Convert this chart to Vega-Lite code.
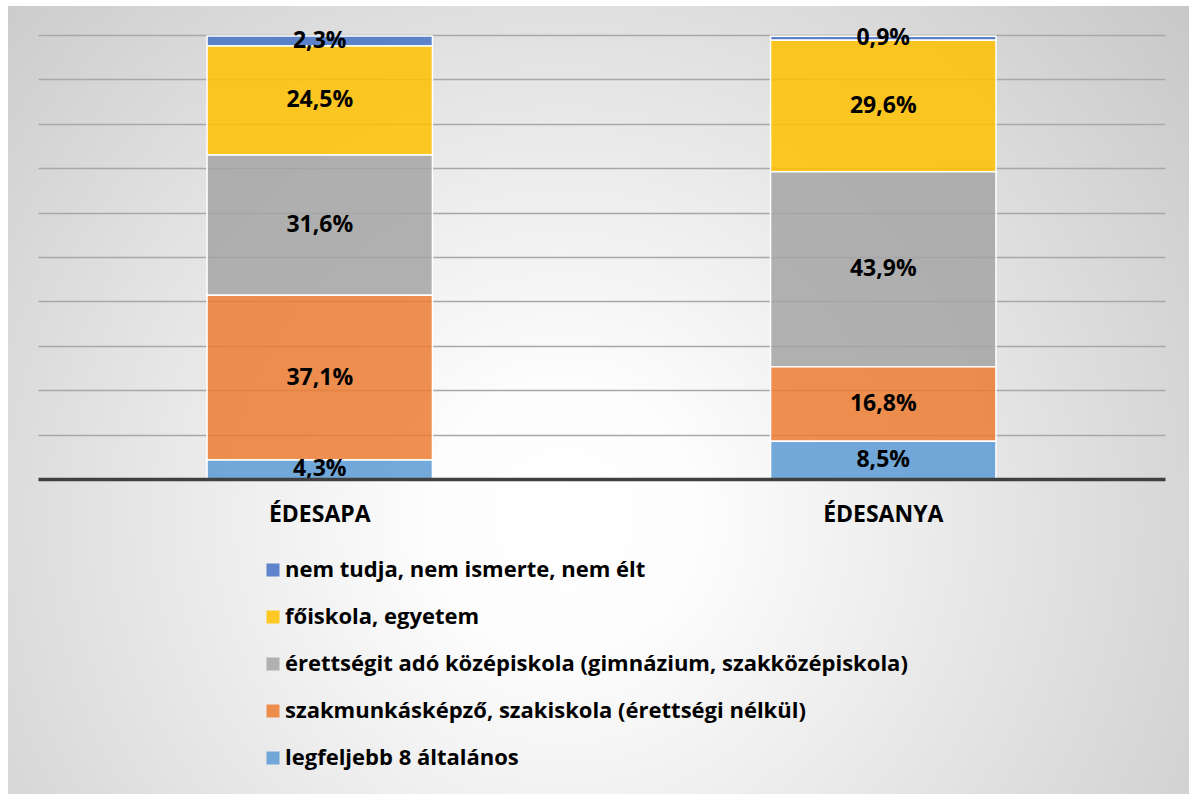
{
  "$schema": "https://vega.github.io/schema/vega-lite/v6.json",
  "width": 1181,
  "height": 788,
  "autosize": {"type": "none"},
  "padding": {"left": 8, "top": 6, "right": 0, "bottom": 0},
  "background": "#ffffff",
  "config": {
    "locale": {"number": {"decimal": ",", "thousands": "\u00a0", "grouping": [3], "currency": ["", " Ft"]}},
    "font": "Open Sans",
    "view": {
      "stroke": null,
      "fill": {
        "gradient": "radial",
        "x1": 0.47, "y1": 0.6, "r1": 0,
        "x2": 0.47, "y2": 0.6, "r2": 0.75,
        "stops": [
          {"offset": 0, "color": "#ffffff"},
          {"offset": 0.15, "color": "#fdfdfd"},
          {"offset": 1, "color": "#c2c2c2"}
        ]
      }
    }
  },
  "data": {
    "values": [
      {"szulo": "ÉDESAPA", "kat": "nem tudja, nem ismerte, nem élt", "arany": 0.023, "ord": 5},
      {"szulo": "ÉDESAPA", "kat": "főiskola, egyetem", "arany": 0.245, "ord": 4},
      {"szulo": "ÉDESAPA", "kat": "érettségit adó középiskola (gimnázium, szakközépiskola)", "arany": 0.316, "ord": 3},
      {"szulo": "ÉDESAPA", "kat": "szakmunkásképző, szakiskola (érettségi nélkül)", "arany": 0.371, "ord": 2},
      {"szulo": "ÉDESAPA", "kat": "legfeljebb 8 általános", "arany": 0.043, "ord": 1},
      {"szulo": "ÉDESANYA", "kat": "nem tudja, nem ismerte, nem élt", "arany": 0.009, "ord": 5},
      {"szulo": "ÉDESANYA", "kat": "főiskola, egyetem", "arany": 0.296, "ord": 4},
      {"szulo": "ÉDESANYA", "kat": "érettségit adó középiskola (gimnázium, szakközépiskola)", "arany": 0.439, "ord": 3},
      {"szulo": "ÉDESANYA", "kat": "szakmunkásképző, szakiskola (érettségi nélkül)", "arany": 0.168, "ord": 2},
      {"szulo": "ÉDESANYA", "kat": "legfeljebb 8 általános", "arany": 0.085, "ord": 1}
    ]
  },
  "encoding": {
    "x": {
      "field": "szulo", "type": "nominal", "sort": ["ÉDESAPA", "ÉDESANYA"],
      "scale": {"range": [30, 1157], "paddingInner": 0.6, "paddingOuter": 0.3},
      "axis": {
        "title": null, "labelAngle": 0, "labelFont": "Open Sans", "labelFontWeight": "bold",
        "labelFontSize": 23, "labelColor": "#000000", "ticks": false, "labelPadding": 24,
        "domainColor": "#404040", "domainWidth": 3.5, "offset": -315, "zindex": 1
      }
    },
    "y": {
      "field": "arany", "type": "quantitative", "stack": "zero",
      "scale": {"domain": [0, 1], "range": [473, 29], "nice": false},
      "axis": {
        "title": null, "labels": false, "ticks": false, "domain": false, "grid": true,
        "gridColor": "#a8a8a8", "gridWidth": 1.5,
        "values": [0.1, 0.2, 0.3, 0.4, 0.5, 0.6, 0.7, 0.8, 0.9, 1.0]
      }
    },
    "order": {"field": "ord", "type": "quantitative"}
  },
  "layer": [
    {
      "mark": {"type": "bar", "fillOpacity": 0.85, "stroke": "#ffffff", "strokeWidth": 1.5},
      "encoding": {
        "color": {
          "field": "kat", "type": "nominal",
          "scale": {
            "domain": ["nem tudja, nem ismerte, nem élt", "főiskola, egyetem", "érettségit adó középiskola (gimnázium, szakközépiskola)", "szakmunkásképző, szakiskola (érettségi nélkül)", "legfeljebb 8 általános"],
            "range": ["#4472C4", "#FFC000", "#A5A5A5", "#ED7D31", "#5B9BD5"]
          },
          "legend": {
            "title": null, "orient": "none", "legendX": 254, "legendY": 553, "padding": 0,
            "symbolType": "square", "symbolSize": 169, "symbolStrokeWidth": 0, "symbolOpacity": 0.85,
            "labelFont": "Open Sans", "labelFontSize": 22, "labelFontWeight": "bold", "labelColor": "#000000",
            "labelLimit": 0, "labelOffset": 1, "rowPadding": 25
          }
        }
      }
    },
    {
      "mark": {"type": "text", "fontSize": 23, "fontWeight": "bold", "color": "#000000", "font": "Open Sans"},
      "encoding": {
        "y": {"field": "arany", "type": "quantitative", "stack": "zero", "bandPosition": 0.5},
        "detail": {"field": "kat", "type": "nominal"},
        "text": {"field": "arany", "type": "quantitative", "format": ".1%"}
      }
    }
  ]
}
